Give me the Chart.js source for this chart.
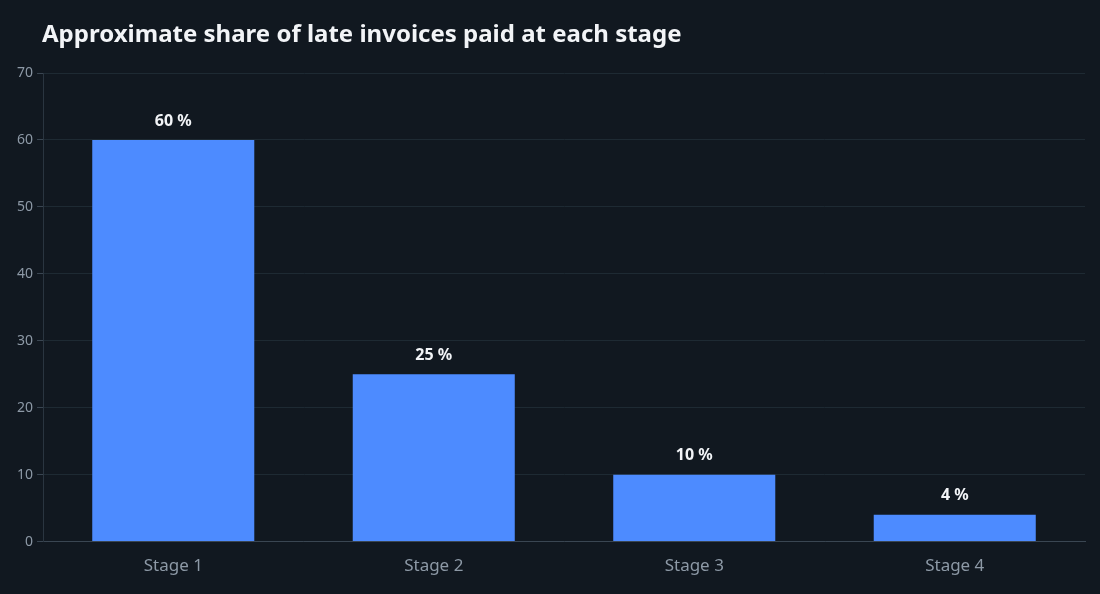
<!DOCTYPE html>
<html>
<head>
<meta charset="utf-8">
<script src="https://cdn.jsdelivr.net/npm/chart.js@4"></script>
<style>
  html, body { margin: 0; padding: 0; background: #111820; }
  #wrap { width: 1100px; height: 594px; }
</style>
</head>
<body>
<div id="wrap"><canvas id="chart"></canvas></div>
<script>
const chartTitle = 'Approximate share of late invoices paid at each stage';
const stages = ['Stage 1', 'Stage 2', 'Stage 3', 'Stage 4'];
const sharePaid = [60, 25, 10, 4];
const yTicks = [0, 10, 20, 30, 40, 50, 60, 70];

// title lined up with the plot's left edge, plus the "60 %" labels above bars
const annotations = {
  id: 'annotations',
  afterDatasetsDraw(chart) {
    const ctx = chart.ctx;
    const meta = chart.getDatasetMeta(0);
    ctx.save();
    ctx.fillStyle = '#f2f4f7';
    ctx.font = 'bold 24px "Noto Sans"';
    ctx.textAlign = 'left';
    ctx.textBaseline = 'middle';
    ctx.fillText(chartTitle, chart.chartArea.left - 1, 35);

    ctx.font = 'bold 16px "Noto Sans"';
    ctx.textAlign = 'center';
    ctx.textBaseline = 'middle';
    meta.data.forEach((bar, i) => {
      ctx.fillText(sharePaid[i] + ' %', bar.x, bar.y - 19);
    });
    ctx.restore();
  }
};

new Chart(document.getElementById('chart'), {
  type: 'bar',
  data: {
    labels: stages,
    datasets: [{
      data: sharePaid,
      backgroundColor: '#4d8bff',
      borderWidth: 0,
      barPercentage: 0.622,
      categoryPercentage: 1
    }]
  },
  options: {
    responsive: true,
    maintainAspectRatio: false,
    animation: false,
    layout: { padding: { left: 13, right: 15, top: 73, bottom: 10 } },
    plugins: {
      legend: { display: false },
      tooltip: { enabled: false },
      title: { display: false }
    },
    scales: {
      x: {
        grid: { display: false, drawTicks: true, tickLength: 6, tickColor: '#0a0e12' },
        border: { color: '#3a4652' },
        ticks: { color: '#8d99a6', font: { family: '"Noto Sans"', size: 17 }, padding: 8 }
      },
      y: {
        min: 0,
        max: 70,
        afterBuildTicks(axis) { axis.ticks = yTicks.map(v => ({ value: v })); },
        grid: { color: '#1e2a33', tickColor: '#3a4652', tickLength: 6 },
        border: { color: '#2a3540' },
        ticks: { color: '#8d99a6', font: { family: '"Noto Sans"', size: 14 }, padding: 4 }
      }
    }
  },
  plugins: [annotations]
});
</script>
</body>
</html>
